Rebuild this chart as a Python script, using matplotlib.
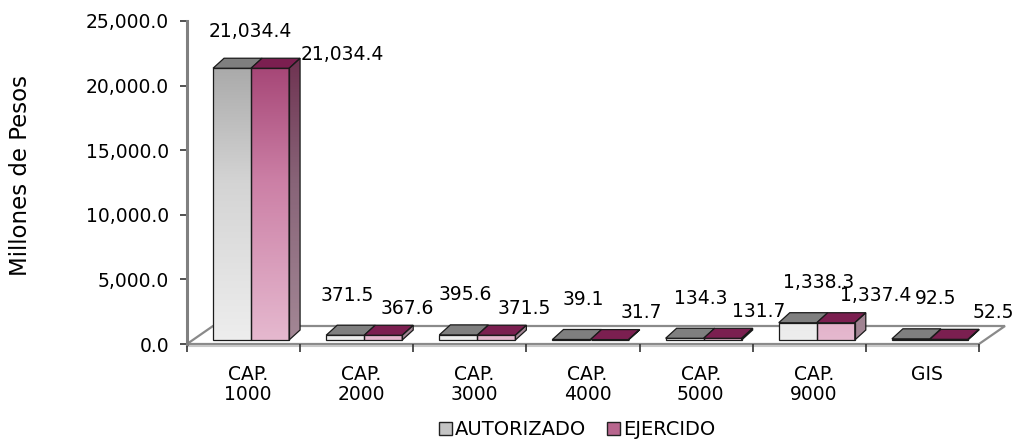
import numpy as np
import matplotlib
matplotlib.use("Agg")
import matplotlib.pyplot as plt
from matplotlib.patches import Polygon, Patch
from matplotlib.colors import LinearSegmentedColormap

# data
categories = ["CAP.\n1000", "CAP.\n2000", "CAP.\n3000", "CAP.\n4000", "CAP.\n5000", "CAP.\n9000", "GIS"]
autorizado = [21034.4, 371.5, 395.6, 39.1, 134.3, 1338.3, 92.5]
ejercido = [21034.4, 367.6, 371.5, 31.7, 131.7, 1337.4, 52.5]
y_ticks = [0, 5000, 10000, 15000, 20000, 25000]

plt.rcParams["font.family"] = ["DejaVu Sans"]
FS = 13.5

fig = plt.figure(figsize=(10.25, 4.41), dpi=100)
ax = fig.add_axes([187 / 1025, 97 / 441, 792 / 1025, 323 / 441])
ax.set_xlim(-0.5, 6.5)
ax.set_ylim(0, 25000)

# pixel -> data unit helpers
px_x = 7 / 792
px_y = 25000 / 323

x = np.arange(len(categories))
w = 0.336
shift = 7.5 * px_x          # bars sit a bit into the floor depth
base = 4 * px_y
ddx, ddy = 11 * px_x, 10 * px_y   # bar depth
fdx, fdy = 26 * px_x, 18 * px_y   # floor depth

# floor
floor = Polygon([(-0.5, 0), (6.5, 0), (6.5 + fdx, fdy), (-0.5 + fdx, fdy)],
                closed=True, facecolor="white", edgecolor="#8a8a8a", lw=1.6,
                zorder=1, clip_on=False)
ax.add_patch(floor)
ax.plot([-0.5, 6.5], [-2 * px_y, -2 * px_y], color="#c8c8c8", lw=1.5,
        clip_on=False, zorder=1)

grad = np.linspace(1, 0, 256).reshape(-1, 1)
cm_aut = LinearSegmentedColormap.from_list("aut", ["#eeeeee", "#d4d4d4", "#999999"])
cm_eje = LinearSegmentedColormap.from_list("eje", ["#e6bad0", "#cc80a6", "#973064"])
cm_side = LinearSegmentedColormap.from_list("side", ["#a48896", "#886478", "#682446"])

EDGE = "#1a1a1a"


def fill_gradient(patch, cmap, x0, x1, z):
    im = ax.imshow(grad, cmap=cmap, extent=[x0, x1, 0, 25000], aspect="auto",
                   vmin=0, vmax=1, zorder=z, interpolation="bilinear")
    im.set_clip_path(patch)


bars_a = ax.bar(x + shift - w / 2, autorizado, width=w, bottom=base,
                facecolor="none", edgecolor=EDGE, lw=0.9)
bars_e = ax.bar(x + shift + w / 2, ejercido, width=w, bottom=base,
                facecolor="none", edgecolor=EDGE, lw=0.9)

for i in range(len(categories)):
    ra, re = bars_a[i], bars_e[i]
    # front faces with gradient, outline above it
    for r, cmap in ((ra, cm_aut), (re, cm_eje)):
        r.set_zorder(3.5 + i)
        fill_gradient(r, cmap, r.get_x(), r.get_x() + r.get_width(), 3 + i)
    # top faces
    for r, col in ((ra, "#7f7f7f"), (re, "#7b1f50")):
        x0, x1 = r.get_x(), r.get_x() + r.get_width()
        t = r.get_y() + r.get_height()
        top = Polygon([(x0, t), (x1, t), (x1 + ddx, t + ddy), (x0 + ddx, t + ddy)],
                      closed=True, facecolor=col, edgecolor=EDGE, lw=0.9,
                      zorder=3.5 + i, clip_on=False)
        ax.add_patch(top)
    # side face of the right bar
    x1 = re.get_x() + re.get_width()
    b, t = re.get_y(), re.get_y() + re.get_height()
    side = Polygon([(x1, b), (x1, t), (x1 + ddx, t + ddy), (x1 + ddx, b + ddy)],
                   closed=True, facecolor="none", edgecolor=EDGE, lw=0.9,
                   zorder=3.5 + i, clip_on=False)
    ax.add_patch(side)
    fill_gradient(side, cm_side, x1, x1 + ddx, 3 + i)

    # data labels
    ta = autorizado[i] + base
    te = ejercido[i] + base
    tall = ejercido[i] > 5000
    off_a = (18, 37) if tall else (-2 + 4.5 * i, 40)
    ax.annotate(f"{autorizado[i]:,.1f}", (ra.get_x() + w / 2, ta), xytext=off_a,
                textcoords="offset pixels", ha="center", va="center", fontsize=FS,
                annotation_clip=False, zorder=20)
    if tall:
        ax.annotate(f"{ejercido[i]:,.1f}", (x1 + ddx, te), xytext=(1, 14),
                    textcoords="offset pixels", ha="left", va="center", fontsize=FS,
                    annotation_clip=False, zorder=20)
    else:
        ax.annotate(f"{ejercido[i]:,.1f}", (re.get_x() + w / 2, te), xytext=(20 + 4 * i, 27),
                    textcoords="offset pixels", ha="center", va="center", fontsize=FS,
                    annotation_clip=False, zorder=20)

# axes styling
for s in ("top", "right", "bottom"):
    ax.spines[s].set_visible(False)
ax.spines["left"].set_color("#808080")
ax.spines["left"].set_linewidth(2.2)

ax.set_yticks(y_ticks)
ax.set_yticklabels([f"{v:,.1f}" for v in y_ticks], fontsize=FS)
ax.tick_params(axis="y", length=5, width=1.2, color="#333333", pad=8)

ax.set_xticks(x + 0.04)
ax.set_xticklabels(categories, fontsize=FS, linespacing=1.05)
ax.tick_params(axis="x", which="major", length=0, pad=15)
ax.set_xticks(np.arange(-0.5, 7, 1), minor=True)
ax.tick_params(axis="x", which="minor", length=6, width=1.2, color="#333333")

ax.set_ylabel("Millones de Pesos", fontsize=16.5)
ax.yaxis.set_label_coords(-0.196, 0.523)

handles = [Patch(facecolor="#c4c4c4", edgecolor="#222222", lw=1.0),
           Patch(facecolor="#b8668e", edgecolor="#222222", lw=1.0)]
fig.legend(handles, ["AUTORIZADO", "EJERCIDO"], loc="center", ncol=2,
           bbox_to_anchor=(0.563, 0.025), frameon=False, fontsize=14,
           handlelength=0.65, handleheight=0.65, handletextpad=0.15, columnspacing=1.1)

fig.savefig("out.png", dpi=100)
